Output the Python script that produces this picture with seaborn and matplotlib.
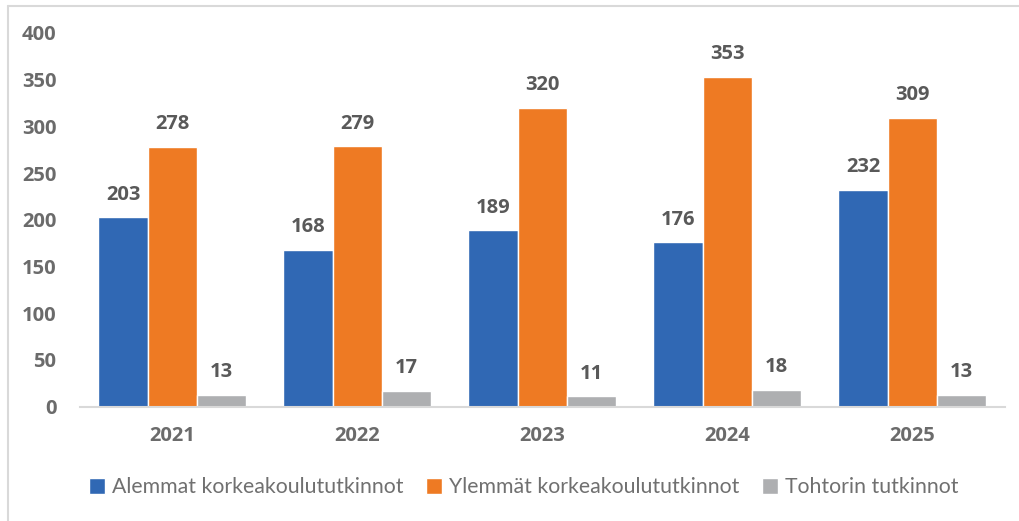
import pandas as pd
import matplotlib.pyplot as plt
import seaborn as sns
from matplotlib.lines import Line2D

# chart data
years = ["2021", "2022", "2023", "2024", "2025"]
series_names = ["Alemmat korkeakoulututkinnot", "Ylemmät korkeakoulututkinnot", "Tohtorin tutkinnot"]
alemmat = [203, 168, 189, 176, 232]
ylemmat = [278, 279, 320, 353, 309]
tohtori = [13, 17, 11, 18, 13]
y_ticks = [0, 50, 100, 150, 200, 250, 300, 350, 400]
colors = ["#3068B4", "#EE7A23", "#AEAFB1"]

df = pd.DataFrame({
    "Vuosi": years * 3,
    "Sarja": [series_names[0]] * 5 + [series_names[1]] * 5 + [series_names[2]] * 5,
    "Määrä": alemmat + ylemmat + tohtori,
})

sns.set_style("white")
plt.rcParams['font.family'] = ['Lato', 'DejaVu Sans']
BOLD = dict(family=['Open Sans', 'DejaVu Sans'], fontweight='bold', fontsize=14.5)

fig = plt.figure(figsize=(10.19, 5.21), dpi=100)
ax = fig.add_axes([0.0785, 0.2194, 0.9075, 0.7173])

sns.barplot(data=df, x="Vuosi", y="Määrä", hue="Sarja", palette=colors,
            width=0.8, saturation=1, ax=ax, legend=True)

for c in ax.containers:
    ax.bar_label(c, padding=9, color='#595959', **BOLD)

ax.set_ylim(0, 400)
ax.set_xlabel("")
ax.set_ylabel("")
for s in ["top", "right", "left"]:
    ax.spines[s].set_visible(False)
ax.spines["bottom"].set_color("#D9D9D9")
ax.spines["bottom"].set_linewidth(1.5)
ax.tick_params(axis='both', length=0, labelcolor='#6B6B6B')
ax.tick_params(axis='x', pad=14)
ax.tick_params(axis='y', pad=17)
ax.set_yticks(y_ticks, [str(v) for v in y_ticks], **BOLD)
ax.set_xticks(range(len(years)), years, **BOLD)

handles, labels = ax.get_legend_handles_labels()
ax.get_legend().remove()
fig.legend(handles, labels, loc='center', bbox_to_anchor=(0.514, 0.065), ncol=3,
           frameon=False, fontsize=15.3, labelcolor='#707070',
           handlelength=0.75, handleheight=0.75, handletextpad=0.3, columnspacing=1.1)

# thin frame on top and left like the original
fig.add_artist(Line2D([0.0075, 1.0], [0.988, 0.988], color='#D9D9D9', lw=1.5))
fig.add_artist(Line2D([0.0075, 0.0075], [0.0, 0.988], color='#D9D9D9', lw=1.5))

fig.savefig("out.png", dpi=100)
